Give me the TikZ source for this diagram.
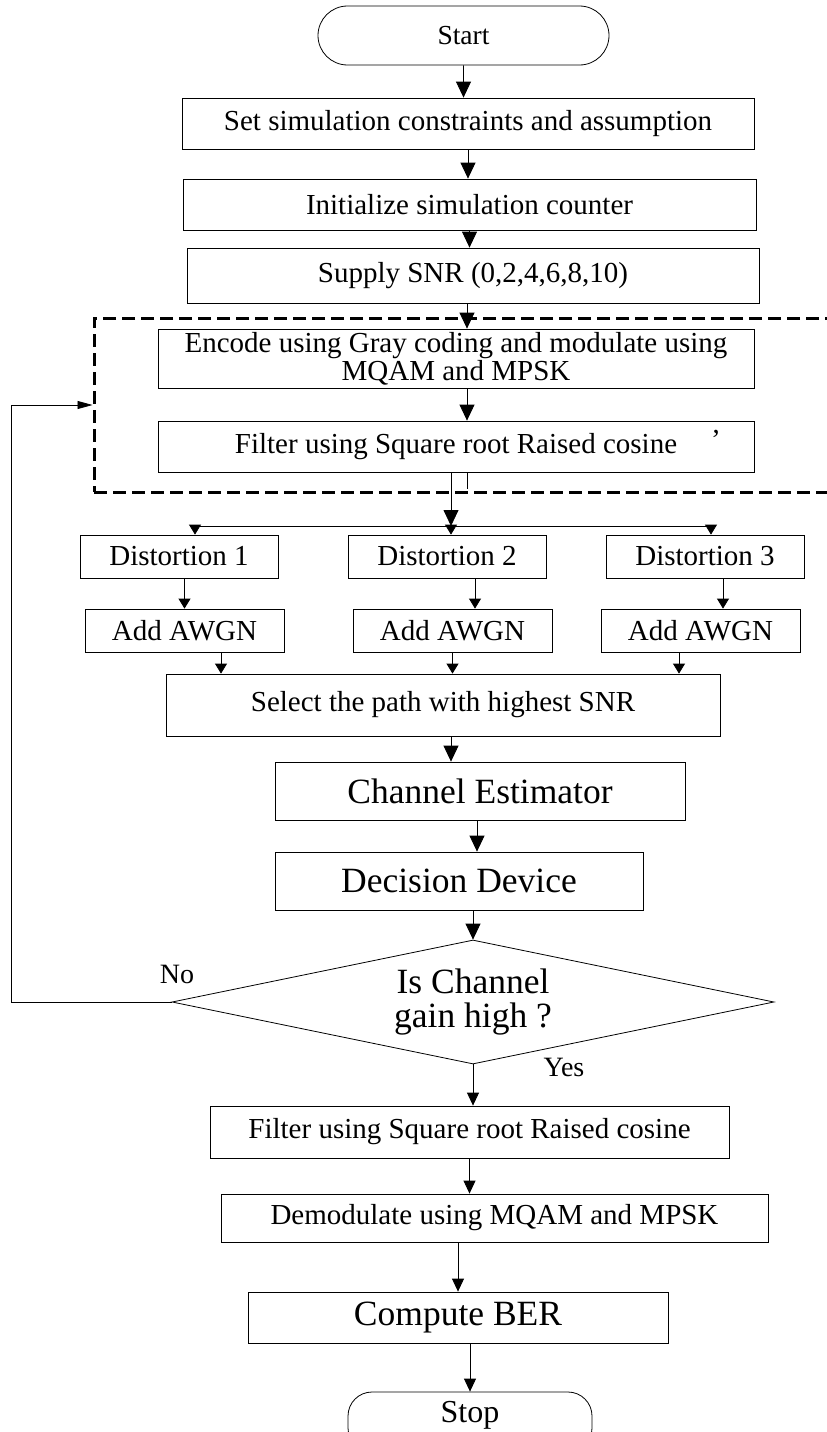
\documentclass[tikz,border=0pt]{standalone}
\usepackage{fontspec}
\setmainfont{Liberation Serif}
\usetikzlibrary{shapes.geometric,shapes.misc,arrows.meta}

\tikzset{
  procbox/.style={draw, rectangle, line width=0.8pt, inner sep=0pt, font=\fontsize{29}{33}\selectfont},
  bigbox/.style={procbox, font=\fontsize{35.5}{40}\selectfont},
  termbox/.style={draw, rounded rectangle, line width=0.8pt, inner sep=0pt},
  decbox/.style={draw, diamond, aspect=4.85, line width=0.8pt, inner sep=0pt, align=center, font=\fontsize{35.5}{34}\selectfont},
  dashbox/.style={draw, rectangle, dash pattern=on 13pt off 6pt, line width=3pt},
  lbl/.style={inner sep=0pt, font=\fontsize{28}{30}\selectfont},
  arr/.style={-{Triangle[length=16pt,width=15pt]}, line width=0.8pt},
  marr/.style={-{Triangle[length=13pt,width=12pt]}, line width=0.8pt},
  sarr/.style={-{Triangle[length=10pt,width=12pt]}, line width=0.8pt},
  farr/.style={-{Triangle[length=15pt,width=8pt]}, line width=0.8pt}
}

\begin{document}
\begin{tikzpicture}[x=1pt, y=-1pt]
\useasboundingbox (0,0) rectangle (827,1432);

% transmitter part
\node[dashbox, minimum width=760pt, minimum height=174pt] (grp) at (474,405) {};

\node[termbox, minimum width=291pt, minimum height=59pt, font=\fontsize{27.5}{30}\selectfont] (start) at (463.5,35.5) {Start};
\node[procbox, minimum width=572pt, minimum height=51pt] (set) at (468,123.5) {Set simulation constraints and assumption};
\node[procbox, minimum width=573pt, minimum height=51pt] (init) at (469.5,204.5) {Initialize simulation counter};
\node[procbox, minimum width=572pt, minimum height=55pt] (snr) at (473,275.5) {Supply SNR (0,2,4,6,8,10)};
\node[procbox, minimum width=596pt, minimum height=59pt, align=center, font=\fontsize{29}{28}\selectfont] (enc) at (456,358.5) {Encode using Gray coding and modulate using\\MQAM and MPSK};
\node[procbox, minimum width=596pt, minimum height=51pt] (filt) at (456,446.5) {Filter using Square root Raised cosine};
\node[lbl, font=\fontsize{29}{33}\selectfont] (tick) at (716,440) {’};

% three paths
\node[procbox, minimum width=198pt, minimum height=43pt] (dist1) at (179,556.5) {Distortion 1};
\node[procbox, minimum width=198pt, minimum height=43pt] (dist2) at (447,556.5) {Distortion 2};
\node[procbox, minimum width=198pt, minimum height=43pt] (dist3) at (705,556.5) {Distortion 3};
\node[procbox, minimum width=199pt, minimum height=43pt] (awgn1) at (184.5,630.5) {Add AWGN};
\node[procbox, minimum width=199pt, minimum height=43pt] (awgn2) at (452.5,630.5) {Add AWGN};
\node[procbox, minimum width=199pt, minimum height=43pt] (awgn3) at (700.5,630.5) {Add AWGN};

% receiver part
\node[procbox, minimum width=554pt, minimum height=62pt] (sel) at (443,705) {Select the path with highest SNR};
\node[bigbox, minimum width=410pt, minimum height=58pt] (chan) at (480,791) {Channel Estimator};
\node[bigbox, minimum width=368pt, minimum height=58pt] (dec) at (459,881) {Decision Device};
\node[decbox, minimum width=602pt, minimum height=124pt] (gain) at (473,1002) {Is Channel\\gain high ?};
\node[lbl] (no) at (177,974) {No};
\node[lbl] (yes) at (564,1067) {Yes};
\node[procbox, minimum width=519pt, minimum height=52pt] (filt2) at (469.5,1132) {Filter using Square root Raised cosine};
\node[procbox, minimum width=547pt, minimum height=48pt] (demod) at (494.5,1218) {Demodulate using MQAM and MPSK};
\node[bigbox, minimum width=420pt, minimum height=51pt] (ber) at (458,1317.5) {Compute BER};
\node[draw, rectangle, rounded corners=24pt, line width=0.8pt, inner sep=0pt, minimum width=244pt, minimum height=60pt, text depth=20pt, font=\fontsize{32}{34}\selectfont] (stop) at (470,1422) {Stop};

\coordinate (fork) at (451,526);
\coordinate (forkl) at (195,526);
\coordinate (forkr) at (711,526);

\draw[arr] (start) -- (start |- set.north);
\draw[arr] (set) -- (set |- init.north);
\draw[arr] (init) -- (init |- snr.north);
\draw[arr] ([xshift=-6pt]snr.south) -- ([xshift=-6pt]snr.south |- enc.north);
\draw[arr] ([xshift=11pt]enc.south) -- ([xshift=11pt]enc.south |- filt.north);
\draw[line width=0.8pt] ([xshift=11pt]filt.south) -- ++(0,17);
\draw[arr] ([xshift=-5pt]filt.south) -- (fork);

\draw[line width=0.8pt] (forkl) -- (forkr);
\draw[sarr] (forkl) -- (forkl |- dist1.north);
\draw[sarr] (fork) -- (fork |- dist2.north);
\draw[sarr] (forkr) -- (forkr |- dist3.north);

\draw[sarr] (dist1.south -| awgn1) -- (awgn1.north);
\draw[sarr] ([xshift=28pt]dist2.south) -- ([xshift=28pt]dist2.south |- awgn2.north);
\draw[sarr] ([xshift=18pt]dist3.south) -- ([xshift=18pt]dist3.south |- awgn3.north);

\draw[sarr] ([xshift=36.5pt]awgn1.south) -- ([xshift=36.5pt]awgn1.south |- sel.north);
\draw[sarr] (awgn2) -- (awgn2 |- sel.north);
\draw[sarr] ([xshift=-21.5pt]awgn3.south) -- ([xshift=-21.5pt]awgn3.south |- sel.north);

\draw[arr] ([xshift=8pt]sel.south) -- ([xshift=8pt]sel.south |- chan.north);
\draw[arr] ([xshift=-3pt]chan.south) -- ([xshift=-3pt]chan.south |- dec.north);
\draw[arr] (dec.south -| gain) -- (gain.north);
\draw[marr] (gain.south) -- (gain.south |- filt2.north);
\draw[marr] (filt2) -- (filt2 |- demod.north);
\draw[marr] (ber |- demod.south) -- (ber.north);
\draw[marr] (stop |- ber.south) -- (stop.north);

% loop back when gain is low
\draw[farr] (gain.west) -- ++(-160,0) |- (grp.west);

\end{tikzpicture}
\end{document}
